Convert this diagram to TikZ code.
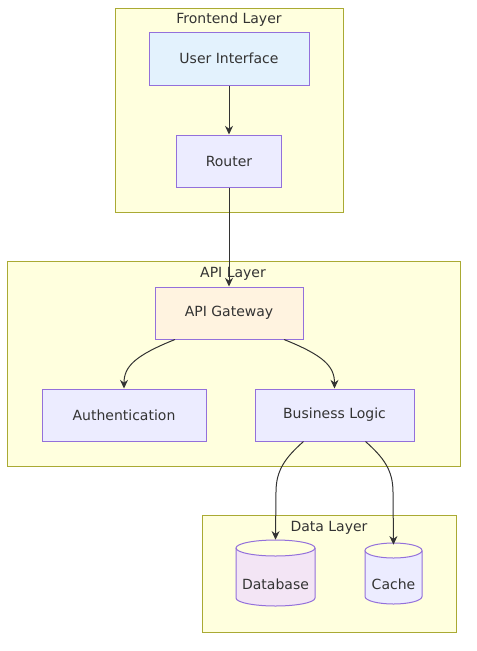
\documentclass[tikz,border=0pt]{standalone}
\usepackage{fontspec}
\setmainfont{DejaVu Sans}
\usetikzlibrary{arrows.meta,calc}
\definecolor{clfill}{HTML}{FFFFDE}
\definecolor{cldraw}{HTML}{AAAA33}
\definecolor{ndfill}{HTML}{ECECFF}
\definecolor{nddraw}{HTML}{9370DB}
\definecolor{uifill}{HTML}{E3F2FD}
\definecolor{gwfill}{HTML}{FFF3E0}
\definecolor{dbfill}{HTML}{F3E5F5}
\definecolor{txt}{HTML}{333333}
\begin{document}
\begin{tikzpicture}[x=0.75pt,y=-0.75pt,
  cluster/.style={draw=cldraw,fill=clfill,line width=0.75pt},
  cltitle/.style={text=txt,font=\fontsize{10.5}{12}\selectfont,inner sep=0pt},
  box/.style={draw=nddraw,fill=ndfill,line width=0.75pt,text=txt,font=\fontsize{10.5}{12}\selectfont},
  cylnode/.style={inner sep=0pt,text=txt,font=\fontsize{10.5}{12}\selectfont},
  cylshape/.style={draw=nddraw,line width=0.75pt},
  edge/.style={draw=txt,line width=0.75pt,-{Stealth[length=6.5pt,width=6pt]}}]
\useasboundingbox (0,0) rectangle (476,651);
% clusters
\draw[cluster] (115,8) rectangle (343,212);
\draw[cluster] (7,261) rectangle (460,466);
\draw[cluster] (202,515) rectangle (456,632);
\node[cltitle] (tfront) at (229,20) {Frontend Layer};
\node[cltitle] (tapi) at (233,274) {API Layer};
\node[cltitle] (tdata) at (329,528) {Data Layer};
% nodes
\node[box,fill=uifill,minimum width=120pt,minimum height=39.75pt] (ui) at (229,58.5) {User Interface};
\node[box,minimum width=78.75pt,minimum height=39pt] (router) at (229,161) {Router};
\node[box,fill=gwfill,minimum width=111pt,minimum height=39pt] (gw) at (229,313) {API Gateway};
\node[box,minimum width=123pt,minimum height=39pt] (auth) at (124,415) {Authentication};
\node[box,minimum width=119.25pt,minimum height=39pt] (bl) at (334.5,415) {Business Logic};
% cylinders
\fill[dbfill] (236,548) -- (236,598) arc[start angle=180,end angle=0,x radius=39.5,y radius=8] -- (315,548) arc[start angle=0,end angle=180,x radius=39.5,y radius=8] -- cycle;
\draw[cylshape] (236,548) -- (236,598) arc[start angle=180,end angle=0,x radius=39.5,y radius=8] -- (315,548);
\draw[cylshape] (275.5,548) ellipse[x radius=39.5,y radius=8];
\node[cylnode,minimum width=59.25pt,minimum height=49.5pt] (db) at (275.5,573) {};
\node[text=txt,font=\fontsize{10.5}{12}\selectfont,inner sep=0pt] (dblabel) at (275.5,584) {Database};
\fill[ndfill] (365,550.5) -- (365,596.5) arc[start angle=180,end angle=0,x radius=28.5,y radius=7.5] -- (422,550.5) arc[start angle=0,end angle=180,x radius=28.5,y radius=7.5] -- cycle;
\draw[cylshape] (365,550.5) -- (365,596.5) arc[start angle=180,end angle=0,x radius=28.5,y radius=7.5] -- (422,550.5);
\draw[cylshape] (393.5,550.5) ellipse[x radius=28.5,y radius=7.5];
\node[cylnode,minimum width=42.75pt,minimum height=45.75pt] (cache) at (393.5,573.5) {};
\node[text=txt,font=\fontsize{10.5}{12}\selectfont,inner sep=0pt] (cachelabel) at (393.5,584) {Cache};
% edges
\draw[edge] (ui) -- (router);
\draw[edge] (router) -- (gw);
\draw[edge] ([xshift=-40.5pt]gw.south) .. controls +(-40,16) and +(0,-22) .. (auth.north);
\draw[edge] ([xshift=41.25pt]gw.south) .. controls +(40,16) and +(0,-22) .. (bl.north);
\coordinate (dbbend) at (276,492);
\coordinate (cabend) at (393,492);
\draw[edge] ([xshift=-23.25pt]bl.south) .. controls +(-18,16) and +(0,-22) .. (dbbend) -- (db.north);
\draw[edge] ([xshift=23.25pt]bl.south) .. controls +(18,16) and +(0,-22) .. (cabend) -- ([yshift=-1.5pt]cache.north);
\end{tikzpicture}
\end{document}
